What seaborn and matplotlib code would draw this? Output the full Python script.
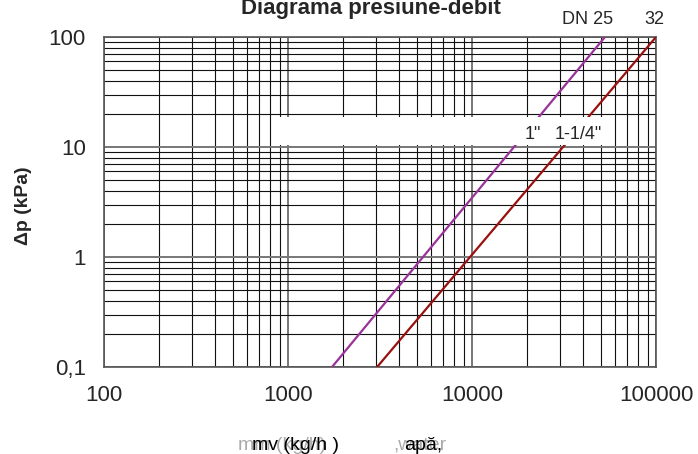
import pandas as pd
import numpy as np
import matplotlib
matplotlib.use('Agg')
import matplotlib.pyplot as plt
import seaborn as sns
from matplotlib.patches import Rectangle
from matplotlib.ticker import LogLocator, NullFormatter

# values (end points of each straight line, log-log)
flow_dn25 = [1735, 52800]      # kg/h
dp_dn25 = [0.1, 100]           # kPa
flow_dn32 = [3050, 100000]
dp_dn32 = [0.1, 100]

x_ticks = [100, 1000, 10000, 100000]
x_tick_labels = ['100', '1000', '10000', '100000']
y_ticks = [0.1, 1, 10, 100]
y_tick_labels = ['0,1', '1', '10', '100']

sns.set_style('white')
plt.rcParams['font.family'] = ['Liberation Sans', 'DejaVu Sans']

df = pd.DataFrame({
    'flow': flow_dn25 + flow_dn32,
    'dp': dp_dn25 + dp_dn32,
    'size': ['DN 25'] * len(flow_dn25) + ['DN 32'] * len(flow_dn32),
})

W, H = 698, 454
fig = plt.figure(figsize=(W / 100, H / 100), dpi=100)
ax = fig.add_axes([104 / W, (H - 367) / H, 552 / W, 330 / H])

sns.lineplot(data=df, x='flow', y='dp', hue='size',
             palette={'DN 25': '#993399', 'DN 32': '#9a1010'},
             linewidth=1.6, legend=False, ax=ax, zorder=3)

ax.set_xscale('log')
ax.set_yscale('log')
ax.set_xlim(100, 100000)
ax.set_ylim(0.1, 100)

ax.xaxis.set_minor_locator(LogLocator(base=10, subs=np.arange(2, 10)))
ax.yaxis.set_minor_locator(LogLocator(base=10, subs=np.arange(2, 10)))
ax.xaxis.set_minor_formatter(NullFormatter())
ax.yaxis.set_minor_formatter(NullFormatter())
ax.set_xticks(x_ticks)
ax.set_xticklabels(x_tick_labels, fontsize=16)
ax.set_yticks(y_ticks)
ax.set_yticklabels(y_tick_labels, fontsize=16)
ax.tick_params(which='major', direction='out', length=7, width=1, color='#555555', pad=6)
ax.tick_params(which='minor', length=0)

ax.grid(which='minor', color='#111111', linewidth=0.8)
ax.grid(which='major', color='#777777', linewidth=1.4)
ax.set_axisbelow(True)
for s in ax.spines.values():
    s.set_color('#555555')
    s.set_linewidth(1.2)

ax.set_xlabel('')
ax.set_ylabel('')

# white box covering the grid, holding the connection sizes
ax.add_patch(Rectangle((0.304, 0.673), 0.614, 0.085, transform=ax.transAxes,
                       facecolor='white', edgecolor='none', zorder=4))
fig.text(533 / W, 1 - 134 / H, '1"', fontsize=13, ha='center', va='center', zorder=5)
fig.text(578 / W, 1 - 134 / H, '1-1/4"', fontsize=13, ha='center', va='center', zorder=5)

fig.text(588 / W, 1 - 20 / H, 'DN 25', fontsize=13, ha='center', va='center')
fig.text(654 / W, 1 - 20 / H, '32', fontsize=13, ha='center', va='center')

fig.text(371 / W, 1 - 14 / H, 'Diagrama presiune-debit', fontsize=16,
         fontweight='bold', ha='center', va='baseline')

fig.text(24 / W, 1 - 206 / H, 'Δp (kPa)', fontsize=14, fontweight='bold',
         rotation=90, ha='center', va='center')

# x label, with the faded text showing through
fig.text(238 / W, 1 - 450 / H, 'mm (kg/h)', fontsize=14, color='#aaaaaa', va='baseline')
fig.text(252 / W, 1 - 450 / H, 'mv (kg/h )', fontsize=14, color='black', va='baseline')
fig.text(393 / W, 1 - 450 / H, ',water', fontsize=14, color='#aaaaaa', va='baseline')
fig.text(404 / W, 1 - 450 / H, 'apă,', fontsize=14, color='black', va='baseline')

fig.savefig('out.png', dpi=100)
